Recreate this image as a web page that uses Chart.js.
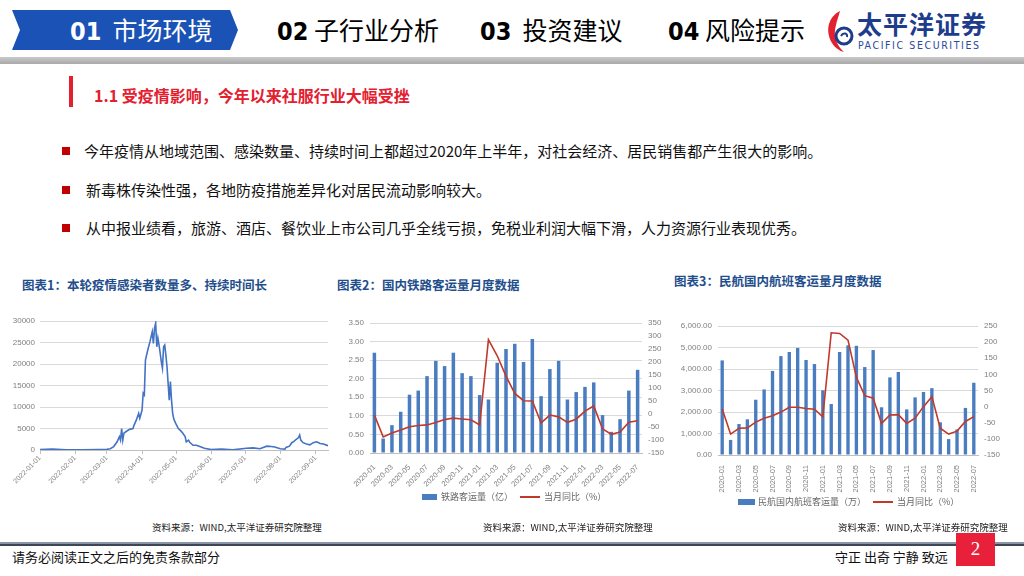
<!DOCTYPE html>
<html>
<head>
<meta charset="utf-8">
<script src="https://cdn.jsdelivr.net/npm/chart.js@4.4.0/dist/chart.umd.min.js"></script>
<style>
  html, body { margin: 0; padding: 0; }
  body { width: 1024px; height: 576px; position: relative; overflow: hidden; background: #fff;
         font-family: "Noto Sans CJK SC", "Noto Sans", sans-serif; }
  .abs { position: absolute; white-space: nowrap; }
  .tab { left: 12px; top: 10px; width: 226px; height: 40px; background: #1a52b6;
         clip-path: polygon(0 0, 218px 0, 226px 50%, 218px 100%, 0 100%, 8px 50%); }
  .num { font-family: "Liberation Sans Narrow", "DejaVu Sans Condensed", "DejaVu Sans", sans-serif;
         font-weight: bold; font-stretch: condensed; }
  .nav { font-size: 25px; color: #000; top: 12px; line-height: 34px; }
  .bullet { left: 62px; width: 8px; height: 8px; background: #c00000; }
  .btxt { left: 84px; font-size: 15px; color: #111; line-height: 20px; }
  .ctitle { font-size: 12.5px; font-weight: bold; color: #1f4e8c; }
  .src { font-size: 9.5px; color: #222; }
  .leg { font-size: 9px; color: #666; line-height: 12px; }
  canvas { position: absolute; }
</style>
</head>
<body>

<!-- header -->
<div class="abs tab"></div>
<div class="abs nav" style="left:70px;color:#fff;"><span class="num">01</span>&nbsp; 市场环境</div>
<div class="abs nav" style="left:277px;"><span class="num">02</span> 子行业分析</div>
<div class="abs nav" style="left:480px;"><span class="num">03</span>&nbsp; 投资建议</div>
<div class="abs nav" style="left:668px;"><span class="num">04</span> 风险提示</div>

<svg class="abs" style="left:824px;top:9px;" width="32" height="44" viewBox="0 0 32 44">
  <path d="M16 2 C4 8 1 22 8 34 C11 39 16 42 20 43 C12 36 9 26 12 16 C13 11 15 6 16 2 Z" fill="#e3202f"/>
  <circle cx="20" cy="27" r="8" fill="none" stroke="#1d3c8c" stroke-width="3"/>
  <path d="M17 27 C19 23 24 24 23 28" fill="none" stroke="#1d3c8c" stroke-width="2"/>
</svg>
<div class="abs" style="left:857px;top:6px;font-size:25px;font-weight:bold;color:#1d3c8c;line-height:34px;letter-spacing:1px;">太平洋证券</div>
<div class="abs" style="left:858px;top:39px;font-size:10.5px;color:#2a4a9a;letter-spacing:1.6px;font-family:'DejaVu Sans Condensed','DejaVu Sans',sans-serif;">PACIFIC SECURITIES</div>

<div class="abs" style="left:0;top:57px;width:1024px;height:7px;background:linear-gradient(#c9c9c9,#a9a9a9);"></div>

<!-- section title -->
<div class="abs" style="left:69px;top:76px;width:4px;height:31px;background:#e3202f;"></div>
<div class="abs" style="left:94px;top:84px;font-size:16px;font-weight:bold;color:#e3202f;line-height:22px;">1.1 受疫情影响，今年以来社服行业大幅受挫</div>

<div class="abs bullet" style="top:147px;"></div>
<div class="abs btxt" style="top:141px;left:84px;">今年疫情从地域范围、感染数量、持续时间上都超过2020年上半年，对社会经济、居民销售都产生很大的影响。</div>
<div class="abs bullet" style="top:186px;"></div>
<div class="abs btxt" style="top:180px;left:86px;">新毒株传染性强，各地防疫措施差异化对居民流动影响较大。</div>
<div class="abs bullet" style="top:224px;"></div>
<div class="abs btxt" style="top:218px;left:86px;">从中报业绩看，旅游、酒店、餐饮业上市公司几乎全线亏损，免税业利润大幅下滑，人力资源行业表现优秀。</div>

<!-- chart titles -->
<div class="abs ctitle" style="left:22px;top:275px;">图表1：本轮疫情感染者数量多、持续时间长</div>
<div class="abs ctitle" style="left:337px;top:275px;">图表2：国内铁路客运量月度数据</div>
<div class="abs ctitle" style="left:674px;top:271px;">图表3：民航国内航班客运量月度数据</div>

<canvas id="c1" style="left:0;top:305px;" width="335" height="195"></canvas>
<canvas id="c2" style="left:335px;top:310px;" width="335" height="185"></canvas>
<canvas id="c3" style="left:668px;top:310px;" width="356" height="185"></canvas>

<!-- legends -->
<div class="abs" style="left:422px;top:494px;width:15px;height:6px;background:#4a7cc0;"></div>
<div class="abs leg" style="left:441px;top:491px;">铁路客运量（亿）</div>
<div class="abs" style="left:520px;top:496px;width:20px;height:2px;background:#c0392b;"></div>
<div class="abs leg" style="left:544px;top:491px;">当月同比（%）</div>

<div class="abs" style="left:738px;top:499px;width:17px;height:6px;background:#4a7cc0;"></div>
<div class="abs leg" style="left:758px;top:496px;">民航国内航班客运量（万）</div>
<div class="abs" style="left:873px;top:501px;width:20px;height:2px;background:#c0392b;"></div>
<div class="abs leg" style="left:897px;top:496px;">当月同比（%）</div>

<!-- sources -->
<div class="abs src" style="left:152px;top:520px;">资料来源：WIND,太平洋证券研究院整理</div>
<div class="abs src" style="left:483px;top:520px;">资料来源：WIND,太平洋证券研究院整理</div>
<div class="abs src" style="left:838px;top:520px;">资料来源：WIND,太平洋证券研究院整理</div>

<!-- footer -->
<div class="abs" style="left:0;top:542px;width:1024px;height:2px;background:#8a96a8;"></div>
<div class="abs" style="left:0;top:544px;width:1024px;height:2px;background:#3c4656;"></div>
<div class="abs" style="left:12px;top:548px;font-size:13px;color:#111;line-height:18px;">请务必阅读正文之后的免责条款部分</div>
<div class="abs" style="left:835px;top:548px;font-size:13px;color:#111;line-height:18px;">守正 出奇 宁静 致远</div>
<div class="abs" style="left:956px;top:533px;width:39px;height:33px;background:#e8203a;color:#fff;font-size:19px;text-align:center;line-height:31px;font-family:'Liberation Serif','DejaVu Serif',serif;">2</div>

<script>
// 图表1 每日感染者 (x = 2022-01-01 起的天数)
var monthLabels1 = ['2022-01-01', '2022-02-01', '2022-03-01', '2022-04-01', '2022-05-01',
                    '2022-06-01', '2022-07-01', '2022-08-01', '2022-09-01'];
var monthDays1 = [0, 31, 59, 90, 120, 151, 181, 212, 243];
var caseDays = [0, 11, 23, 37, 52, 59, 62, 65, 68, 70, 71, 72, 73, 74, 76, 79, 82, 83, 85, 87, 88, 90,
                91, 92, 93, 95, 97, 99, 100, 101, 102, 103, 104, 105, 106, 107, 108, 109, 110, 111, 112,
                113, 114, 115, 116, 117, 118, 119, 120, 122, 124, 126, 128, 129, 131, 132, 135, 138, 141,
                145, 151, 160, 170, 182, 188, 194, 200, 204, 207, 212, 216, 217, 220, 222, 224, 226, 228,
                229, 230, 232, 235, 238, 241, 244, 247, 250, 254];
var caseValues = [100, 200, 50, 50, 100, 150, 300, 800, 1900, 3100, 2300, 5000, 2300, 3900, 4300, 4800,
                  5000, 5800, 7000, 8500, 7400, 9300, 13200, 12800, 20900, 23200, 25200, 27500, 24800,
                  28300, 29500, 24000, 26000, 24400, 22500, 20500, 19000, 24000, 24400, 22100, 19400,
                  15500, 11600, 15900, 11600, 8500, 7200, 6600, 6000, 5000, 4500, 3900, 3100, 1900, 2300,
                  1800, 1100, 1100, 800, 400, 100, 200, 50, 400, 500, 300, 900, 800, 700, 300, 200, 600,
                  900, 1700, 2000, 2500, 2900, 3500, 2300, 1700, 1400, 1200, 1700, 1900, 1500, 1400, 1000];

// 图表2/3 月份
var months = ['2020-01', '2020-02', '2020-03', '2020-04', '2020-05', '2020-06', '2020-07', '2020-08',
              '2020-09', '2020-10', '2020-11', '2020-12', '2021-01', '2021-02', '2021-03', '2021-04',
              '2021-05', '2021-06', '2021-07', '2021-08', '2021-09', '2021-10', '2021-11', '2021-12',
              '2022-01', '2022-02', '2022-03', '2022-04', '2022-05', '2022-06', '2022-07'];

// 铁路客运量(亿) / 当月同比(%)
var railVolume = [2.70, 0.39, 0.75, 1.11, 1.57, 1.68, 2.07, 2.48, 2.34, 2.70, 2.15, 2.07, 1.56, 1.44,
                  2.43, 2.80, 2.94, 2.45, 3.07, 1.53, 2.26, 2.48, 1.44, 1.64, 1.78, 1.90, 1.02, 0.57,
                  0.91, 1.68, 2.24];
var railYoY = [-4, -88, -73, -62, -49, -44, -42, -33, -21, -16, -19, -22, -42, 286, 224, 146, 79, 51,
               50, -34, -4, -11, -32, -20, 11, 31, -57, -78, -69, -32, -26];

// 民航国内航班客运量(万) / 当月同比(%)
var flightVolume = [4400, 700, 1440, 1660, 2570, 3050, 3910, 4600, 4790, 4980, 4420, 4230, 3010, 2370,
                    4790, 5100, 5080, 4090, 4880, 2220, 3610, 3860, 2120, 2680, 2930, 3110, 1520, 740,
                    1190, 2190, 3360];
var flightYoY = [-7, -85, -67, -66, -48, -36, -28, -17, -2, -2, -6, -8, -32, 229, 227, 206, 91, 34, 26,
                 -52, -26, -25, -52, -36, 0, 31, -67, -85, -76, -46, -31];

var tickFont = { family: '"Liberation Sans", "Noto Sans CJK SC", sans-serif', size: 8 };
var tickColor = '#7f7f7f';
var gridColor = '#d9d9d9';
var barColor = '#4a7cc0';
var lineColor = '#c0392b';

function fixWidth(w) { return function (s) { s.width = w; }; }
function fixHeight(h) { return function (s) { s.height = h; }; }

// 图表1
new Chart(document.getElementById('c1'), {
    type: 'line',
    data: {
        datasets: [{
            data: caseDays.map(function (d, i) { return { x: d, y: caseValues[i] }; }),
            borderColor: '#4472c4',
            borderWidth: 1.6,
            pointRadius: 0,
            tension: 0
        }]
    },
    options: {
        responsive: false,
        animation: false,
        layout: { padding: { top: 16, right: 7, left: 0, bottom: 0 } },
        plugins: { legend: { display: false }, tooltip: { enabled: false } },
        scales: {
            x: {
                type: 'linear', min: 0, max: 254,
                afterBuildTicks: function (s) { s.ticks = monthDays1.map(function (v) { return { value: v }; }); },
                afterFit: fixHeight(50),
                ticks: {
                    autoSkip: false, minRotation: 45, maxRotation: 45, color: tickColor, font: { family: tickFont.family, size: 7 },
                    padding: 0,
                    callback: function (v, i) { return monthLabels1[i]; }
                },
                grid: { drawOnChartArea: false, tickLength: 4, color: '#bfbfbf' },
                border: { color: '#bfbfbf' }
            },
            y: {
                min: 0, max: 30000,
                afterFit: fixWidth(40),
                ticks: { stepSize: 5000, color: tickColor, font: tickFont, padding: 5,
                         callback: function (v) { return String(v); } },
                grid: { color: gridColor, drawTicks: false },
                border: { display: false }
            }
        }
    }
});

function comboChart(id, volume, yoy, opt) {
    new Chart(document.getElementById(id), {
        data: {
            labels: months,
            datasets: [{
                type: 'line',
                data: yoy,
                yAxisID: 'y1',
                borderColor: lineColor,
                borderWidth: 1.6,
                pointRadius: 0,
                tension: 0
            }, {
                type: 'bar',
                data: volume,
                yAxisID: 'y',
                backgroundColor: barColor,
                barPercentage: 0.8,
                categoryPercentage: 0.5
            }]
        },
        options: {
            responsive: false,
            animation: false,
            layout: { padding: { top: opt.top, right: 0, left: 0, bottom: 0 } },
            plugins: { legend: { display: false }, tooltip: { enabled: false } },
            scales: {
                x: {
                    afterFit: fixHeight(opt.xh),
                    ticks: {
                        autoSkip: false, minRotation: opt.rot, maxRotation: opt.rot, color: tickColor,
                        font: { family: tickFont.family, size: 7.5 }, padding: 2,
                        callback: function (v, i) { return i % 2 === 0 ? months[i] : ''; }
                    },
                    grid: { display: false },
                    border: { color: '#bfbfbf' }
                },
                y: {
                    position: 'left', min: 0, max: opt.max,
                    afterFit: fixWidth(opt.lw),
                    ticks: { stepSize: opt.step, color: tickColor, font: tickFont, padding: 6, callback: opt.fmt },
                    grid: { color: gridColor, drawTicks: false },
                    border: { display: false }
                },
                y1: {
                    position: 'right', min: opt.rmin, max: opt.rmax,
                    afterFit: fixWidth(opt.rw),
                    ticks: { stepSize: 50, color: tickColor, font: tickFont, padding: 6 },
                    grid: { display: false, drawTicks: false },
                    border: { display: false }
                }
            }
        }
    });
}

comboChart('c2', railVolume, railYoY, {
    top: 13, xh: 42, rot: 45, lw: 35, rw: 28, max: 3.5, step: 0.5, rmin: -150, rmax: 350,
    fmt: function (v) { return v.toFixed(2); }
});

comboChart('c3', flightVolume, flightYoY, {
    top: 16, xh: 40, rot: 90, lw: 50, rw: 46, max: 6000, step: 1000, rmin: -150, rmax: 250,
    fmt: function (v) { return v.toLocaleString('en-US', { minimumFractionDigits: 2, maximumFractionDigits: 2 }); }
});
</script>
</body>
</html>
